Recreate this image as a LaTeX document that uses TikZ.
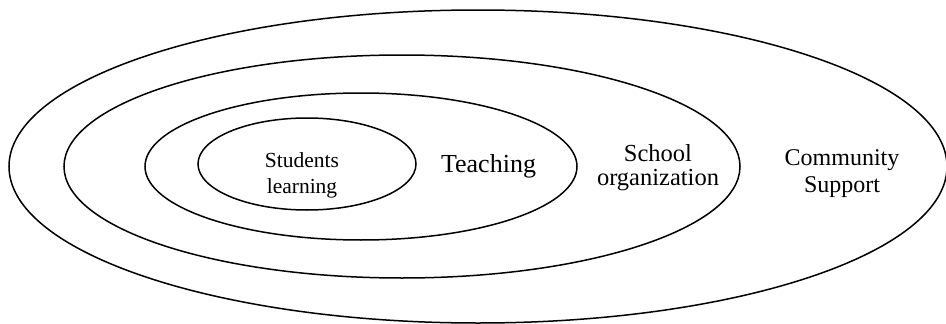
\documentclass[tikz,border=0pt]{standalone}
\usepackage{fontspec}
\setmainfont{Liberation Serif}
\begin{document}
\begin{tikzpicture}[x=1pt,y=-1pt,
  ring/.style={draw=black,line width=1.5pt},
  lbl/.style={inner sep=0pt,align=center,text=black}]
\useasboundingbox (0,0) rectangle (946,324);
% rings
\draw[ring] (478,166.5) ellipse [x radius=469pt,y radius=156.5pt];
\draw[ring] (402,166.5) ellipse [x radius=338pt,y radius=111.5pt];
\draw[ring] (361,166.5) ellipse [x radius=216pt,y radius=73.5pt];
\draw[ring] (307,164) ellipse [x radius=109pt,y radius=46pt];
% labels
\node[lbl,font=\fontsize{21.5}{26}\selectfont] (students) at (302,175) {Students\\learning};
\node[lbl,font=\fontsize{26}{30}\selectfont,anchor=base] (teaching) at (488.5,172) {Teaching};
\node[lbl,font=\fontsize{24.5}{24}\selectfont] (school) at (658,167.3) {School\\organization};
\node[lbl,font=\fontsize{24}{27}\selectfont] (community) at (842,173.9) {Community\\Support};
\end{tikzpicture}
\end{document}
